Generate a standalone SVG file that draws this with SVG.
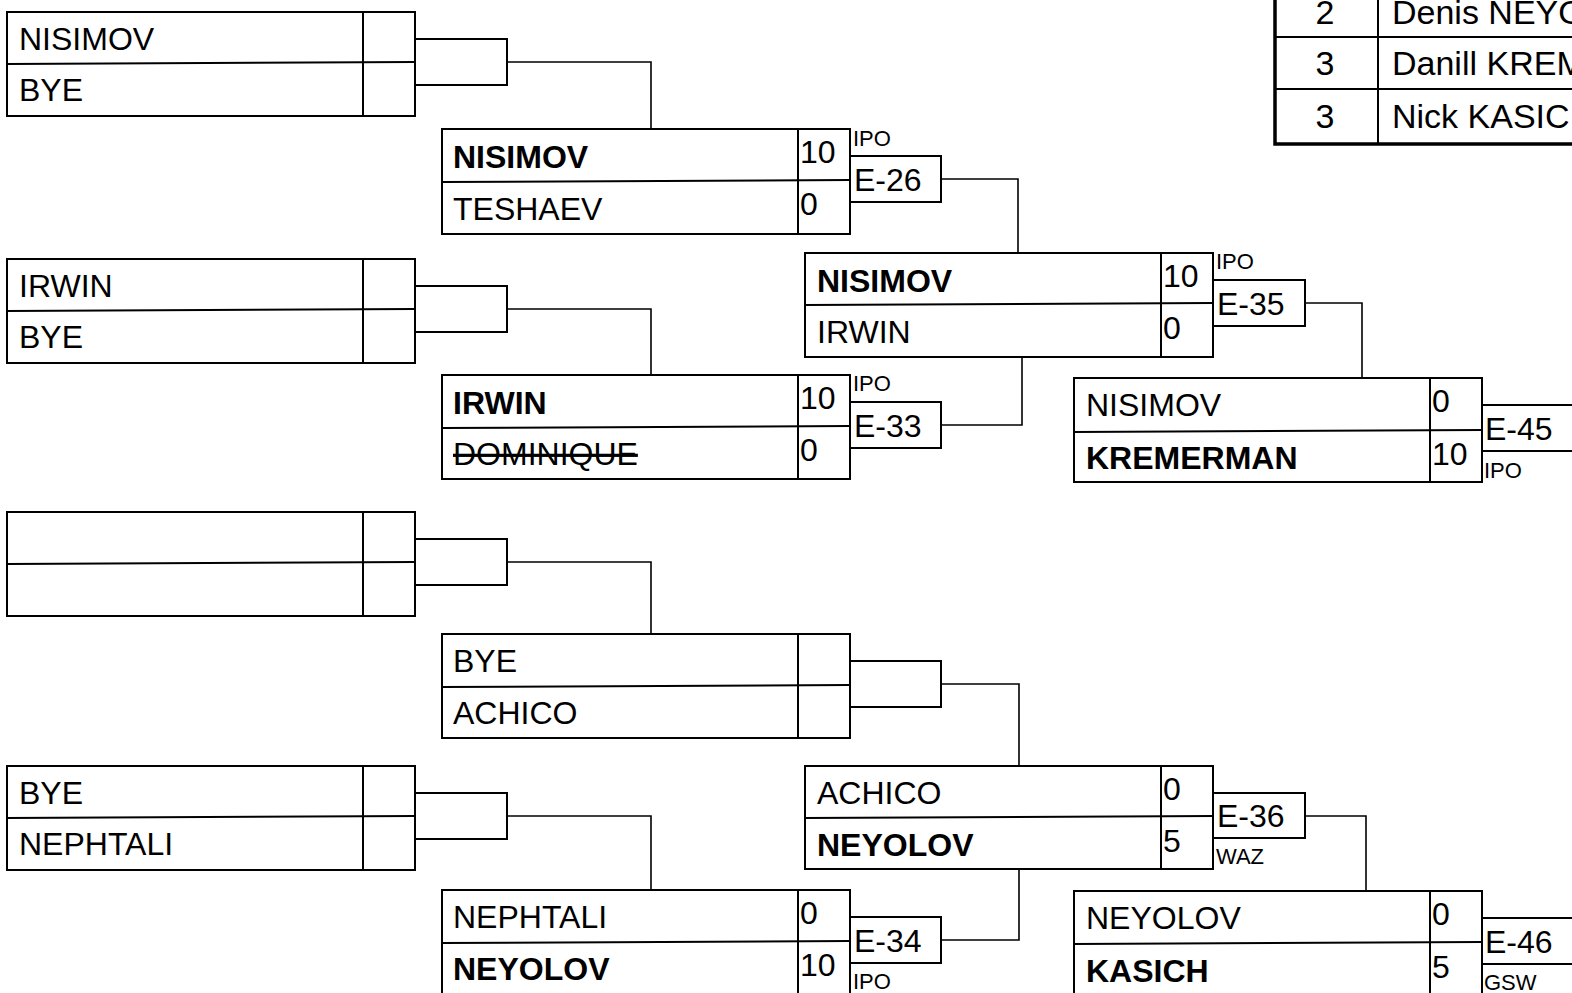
<svg xmlns="http://www.w3.org/2000/svg" width="1572" height="993" viewBox="0 0 1572 993">
<style>
.b{fill:#fff;stroke:#000;stroke-width:2}
.l{stroke:#000;stroke-width:2;fill:none}
.c{stroke:#000;stroke-width:1.6;fill:none}
.t{font-family:"Liberation Sans",Arial,sans-serif;font-size:32px;fill:#000}
.tt{font-family:"Liberation Sans",Arial,sans-serif;font-size:34px;fill:#000}
.bd{font-weight:bold}
.s{font-family:"Liberation Sans",Arial,sans-serif;font-size:22px;fill:#000}
.st{text-decoration:line-through}
.tb{fill:none;stroke:#000;stroke-width:3.5}
</style>
<rect width="1572" height="993" fill="#fff"/>

<g id="connectors">
<path class="c" d="M507,62H651V129"/>
<path class="c" d="M507,309H651V375"/>
<path class="c" d="M507,562H651V634"/>
<path class="c" d="M507,816H651V890"/>
<path class="c" d="M941,179H1018V253"/>
<path class="c" d="M941,425H1022V357"/>
<path class="c" d="M941,684H1019V766"/>
<path class="c" d="M941,940H1019V870"/>
<path class="c" d="M1305,303H1362V378"/>
<path class="c" d="M1305,816H1366V891"/>
</g>

<g id="standings">
<rect class="tb" x="1275" y="-20" width="400" height="164"/>
<line class="l" x1="1275" y1="37" x2="1572" y2="37"/>
<line class="l" x1="1275" y1="89" x2="1572" y2="89"/>
<line class="l" x1="1378" y1="-20" x2="1378" y2="144"/>
<text class="tt" x="1325" y="24" text-anchor="middle">2</text>
<text class="tt" x="1392" y="24">Denis NEYO</text>
<text class="tt" x="1325" y="75" text-anchor="middle">3</text>
<text class="tt" x="1392" y="75">Danill KREM</text>
<text class="tt" x="1325" y="128" text-anchor="middle">3</text>
<text class="tt" x="1392" y="128">Nick KASIC</text>
</g>

<g id="r1m1">
<rect class="b" x="7" y="12" width="408" height="104"/>
<line class="l" x1="7" y1="64" x2="415" y2="62"/>
<line class="l" x1="363" y1="12" x2="363" y2="116"/>
<rect class="b" x="415" y="39" width="92" height="46"/>
<text class="t" x="19" y="50">NISIMOV</text>
<text class="t" x="19" y="101">BYE</text>
</g>
<g id="r1m2">
<rect class="b" x="7" y="259" width="408" height="104"/>
<line class="l" x1="7" y1="311" x2="415" y2="309"/>
<line class="l" x1="363" y1="259" x2="363" y2="363"/>
<rect class="b" x="415" y="286" width="92" height="46"/>
<text class="t" x="19" y="297">IRWIN</text>
<text class="t" x="19" y="348">BYE</text>
</g>
<g id="r1m3">
<rect class="b" x="7" y="512" width="408" height="104"/>
<line class="l" x1="7" y1="564" x2="415" y2="562"/>
<line class="l" x1="363" y1="512" x2="363" y2="616"/>
<rect class="b" x="415" y="539" width="92" height="46"/>
</g>
<g id="r1m4">
<rect class="b" x="7" y="766" width="408" height="104"/>
<line class="l" x1="7" y1="818" x2="415" y2="816"/>
<line class="l" x1="363" y1="766" x2="363" y2="870"/>
<rect class="b" x="415" y="793" width="92" height="46"/>
<text class="t" x="19" y="804">BYE</text>
<text class="t" x="19" y="855">NEPHTALI</text>
</g>

<g id="r2m1">
<rect class="b" x="442" y="129" width="408" height="105"/>
<line class="l" x1="442" y1="182" x2="850" y2="180"/>
<line class="l" x1="798" y1="129" x2="798" y2="234"/>
<rect class="b" x="850" y="156" width="91" height="46"/>
<text class="t bd" x="453" y="168">NISIMOV</text>
<text class="t" x="453" y="220">TESHAEV</text>
<text class="t" x="800" y="163">10</text>
<text class="t" x="800" y="215">0</text>
<text class="t" x="854" y="191">E-26</text>
<text class="s" x="853" y="146">IPO</text>
</g>
<g id="r2m2">
<rect class="b" x="442" y="375" width="408" height="104"/>
<line class="l" x1="442" y1="428" x2="850" y2="426"/>
<line class="l" x1="798" y1="375" x2="798" y2="479"/>
<rect class="b" x="850" y="402" width="91" height="46"/>
<text class="t bd" x="453" y="414">IRWIN</text>
<text class="t st" x="453" y="465">DOMINIQUE</text>
<text class="t" x="800" y="409">10</text>
<text class="t" x="800" y="461">0</text>
<text class="t" x="854" y="437">E-33</text>
<text class="s" x="853" y="391">IPO</text>
</g>
<g id="r2m3">
<rect class="b" x="442" y="634" width="408" height="104"/>
<line class="l" x1="442" y1="687" x2="850" y2="685"/>
<line class="l" x1="798" y1="634" x2="798" y2="738"/>
<rect class="b" x="850" y="661" width="91" height="46"/>
<text class="t" x="453" y="672">BYE</text>
<text class="t" x="453" y="724">ACHICO</text>
</g>
<g id="r2m4">
<rect class="b" x="442" y="890" width="408" height="104"/>
<line class="l" x1="442" y1="943" x2="850" y2="941"/>
<line class="l" x1="798" y1="890" x2="798" y2="994"/>
<rect class="b" x="850" y="917" width="91" height="46"/>
<text class="t" x="453" y="928">NEPHTALI</text>
<text class="t bd" x="453" y="980">NEYOLOV</text>
<text class="t" x="800" y="924">0</text>
<text class="t" x="800" y="976">10</text>
<text class="t" x="854" y="952">E-34</text>
<text class="s" x="853" y="989">IPO</text>
</g>

<g id="r3m1">
<rect class="b" x="805" y="253" width="408" height="104"/>
<line class="l" x1="805" y1="305" x2="1213" y2="303"/>
<line class="l" x1="1161" y1="253" x2="1161" y2="357"/>
<rect class="b" x="1213" y="280" width="92" height="46"/>
<text class="t bd" x="817" y="292">NISIMOV</text>
<text class="t" x="817" y="343">IRWIN</text>
<text class="t" x="1163" y="287">10</text>
<text class="t" x="1163" y="339">0</text>
<text class="t" x="1217" y="315">E-35</text>
<text class="s" x="1216" y="269">IPO</text>
</g>
<g id="r3m2">
<rect class="b" x="805" y="766" width="408" height="103"/>
<line class="l" x1="805" y1="818" x2="1213" y2="816"/>
<line class="l" x1="1161" y1="766" x2="1161" y2="869"/>
<rect class="b" x="1213" y="793" width="92" height="45"/>
<text class="t" x="817" y="804">ACHICO</text>
<text class="t bd" x="817" y="856">NEYOLOV</text>
<text class="t" x="1163" y="800">0</text>
<text class="t" x="1163" y="852">5</text>
<text class="t" x="1217" y="827">E-36</text>
<text class="s" x="1216" y="864">WAZ</text>
</g>

<g id="r4m1">
<rect class="b" x="1074" y="378" width="408" height="104"/>
<line class="l" x1="1074" y1="432" x2="1482" y2="430"/>
<line class="l" x1="1430" y1="378" x2="1430" y2="482"/>
<rect class="b" x="1482" y="405" width="200" height="46"/>
<text class="t" x="1086" y="416">NISIMOV</text>
<text class="t bd" x="1086" y="469">KREMERMAN</text>
<text class="t" x="1432" y="412">0</text>
<text class="t" x="1432" y="465">10</text>
<text class="t" x="1485" y="440">E-45</text>
<text class="s" x="1484" y="478">IPO</text>
</g>
<g id="r4m2">
<rect class="b" x="1074" y="891" width="408" height="104"/>
<line class="l" x1="1074" y1="944" x2="1482" y2="942"/>
<line class="l" x1="1430" y1="891" x2="1430" y2="995"/>
<rect class="b" x="1482" y="918" width="200" height="46"/>
<text class="t" x="1086" y="929">NEYOLOV</text>
<text class="t bd" x="1086" y="982">KASICH</text>
<text class="t" x="1432" y="925">0</text>
<text class="t" x="1432" y="978">5</text>
<text class="t" x="1485" y="953">E-46</text>
<text class="s" x="1484" y="990">GSW</text>
</g>
</svg>
